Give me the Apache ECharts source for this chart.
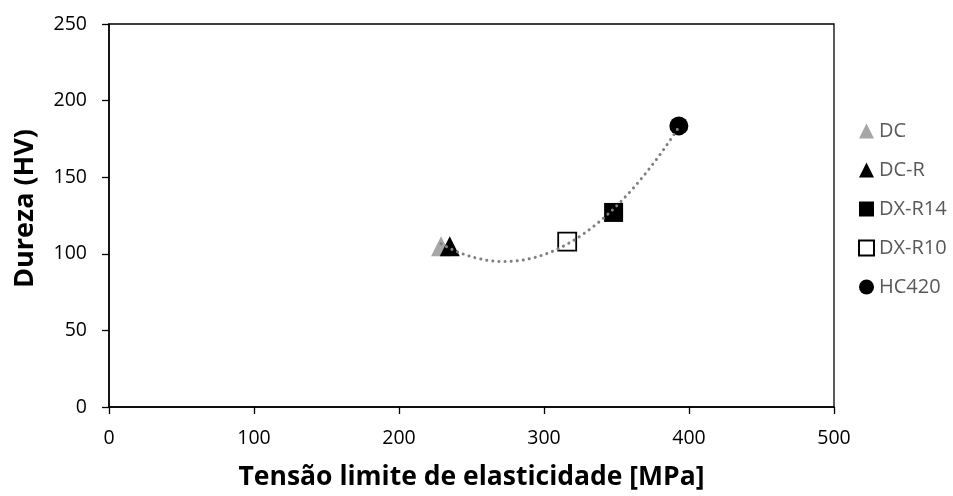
<!DOCTYPE html>
<html>
<head>
<meta charset="utf-8">
<script src="https://cdn.jsdelivr.net/npm/echarts@6/dist/echarts.min.js"></script>
<style>
html,body{margin:0;padding:0;background:#fff;}
#chart{width:953px;height:496px;}
</style>
</head>
<body>
<div id="chart"></div>
<script>
// Yield strength [MPa] vs hardness [HV] for each steel grade
const seriesNames = ['DC', 'DC-R', 'DX-R14', 'DX-R10', 'HC420'];
const yieldStrength = [229, 235, 348, 316, 393];
const hardness = [105, 105, 127, 108, 183.5];
const xTicks = [0, 100, 200, 300, 400, 500];
const yTicks = [0, 50, 100, 150, 200, 250];

// Order-2 polynomial least-squares trendline through all points
function quadFit(xs, ys) {
  const n = xs.length;
  let s = [0, 0, 0, 0, 0], t = [0, 0, 0];
  for (let i = 0; i < n; i++) {
    let p = 1;
    for (let k = 0; k < 5; k++) { s[k] += p; if (k < 3) t[k] += p * ys[i]; p *= xs[i]; }
  }
  const A = [[s[0], s[1], s[2], t[0]], [s[1], s[2], s[3], t[1]], [s[2], s[3], s[4], t[2]]];
  for (let c = 0; c < 3; c++) {
    for (let r = c + 1; r < 3; r++) {
      const f = A[r][c] / A[c][c];
      for (let k = c; k < 4; k++) A[r][k] -= f * A[c][k];
    }
  }
  const b = [0, 0, 0];
  for (let r = 2; r >= 0; r--) {
    let v = A[r][3];
    for (let k = r + 1; k < 3; k++) v -= A[r][k] * b[k];
    b[r] = v / A[r][r];
  }
  return b;
}
const coef = quadFit(yieldStrength, hardness);
const xMin = Math.min(...yieldStrength), xMax = Math.max(...yieldStrength);
const trend = [];
for (let i = 0; i <= 60; i++) {
  const x = xMin + (xMax - xMin) * i / 60;
  trend.push([x, coef[0] + coef[1] * x + coef[2] * x * x]);
}

const styles = {
  'DC':     { symbol: 'triangle', size: 20, color: '#a6a6a6', border: '#a6a6a6', bw: 0 },
  'DC-R':   { symbol: 'triangle', size: 20, color: '#000000', border: '#000000', bw: 0 },
  'DX-R14': { symbol: 'rect',     size: 19, color: '#000000', border: '#000000', bw: 0 },
  'DX-R10': { symbol: 'rect',     size: 18, color: '#ffffff', border: '#000000', bw: 1.8 },
  'HC420':  { symbol: 'circle',   size: 19, color: '#000000', border: '#000000', bw: 0 }
};

const pointSeries = seriesNames.map((name, i) => ({
  name: name,
  type: 'scatter',
  symbol: styles[name].symbol,
  symbolSize: styles[name].size,
  data: [[yieldStrength[i], hardness[i]]],
  itemStyle: { color: styles[name].color, borderColor: styles[name].border, borderWidth: styles[name].bw, opacity: 1 },
  z: 3
}));

const font = '"Open Sans", Lato, sans-serif';
const chart = echarts.init(document.getElementById('chart'), null, { renderer: 'canvas' });
chart.setOption({
  animation: false,
  backgroundColor: '#fff',
  textStyle: { fontFamily: font },
  grid: { left: 109, right: 119, top: 24, bottom: 89, show: true, borderColor: '#000', borderWidth: 1.3, backgroundColor: 'transparent' },
  legend: {
    data: seriesNames.map(n => ({ name: n, icon: styles[n].symbol })),
    orient: 'vertical',
    left: 853, top: 116,
    itemWidth: 15, itemHeight: 15, itemGap: 19,
    textStyle: { fontFamily: font, fontSize: 20, lineHeight: 20, color: '#595959' }
  },
  xAxis: {
    type: 'value', min: 0, max: 500, interval: 100,
    name: 'Tensão limite de elasticidade [MPa]', nameLocation: 'middle', nameGap: 57,
    nameTextStyle: { fontFamily: font, fontSize: 26.5, fontWeight: 'bold', color: '#000' },
    axisLine: { show: true, lineStyle: { color: '#000', width: 1.5 } },
    axisTick: { show: true, length: 7, lineStyle: { color: '#000', width: 1.3 } },
    axisLabel: { fontFamily: font, fontSize: 19.5, color: '#000', margin: 21,
      formatter: v => xTicks.includes(v) ? String(v) : '' },
    splitLine: { show: false }
  },
  yAxis: {
    type: 'value', min: 0, max: 250, interval: 50,
    name: 'Dureza (HV)', nameLocation: 'middle', nameGap: 70,
    nameTextStyle: { fontFamily: font, fontSize: 27, fontWeight: 'bold', color: '#000', padding: [0, 0, 0, 14] },
    axisLine: { show: true, lineStyle: { color: '#000', width: 1.5 } },
    axisTick: { show: true, length: 7, lineStyle: { color: '#000', width: 1.3 } },
    axisLabel: { fontFamily: font, fontSize: 19.5, color: '#000', margin: 22,
      formatter: v => yTicks.includes(v) ? String(v) : '' },
    splitLine: { show: false }
  },
  series: [
    ...pointSeries,
    {
      name: 'trend',
      type: 'line',
      data: trend,
      showSymbol: false,
      smooth: false,
      lineStyle: { color: '#808080', width: 3, type: [0.1, 6], cap: 'round' },
      z: 4,
      silent: true
    }
  ]
});
</script>
</body>
</html>
